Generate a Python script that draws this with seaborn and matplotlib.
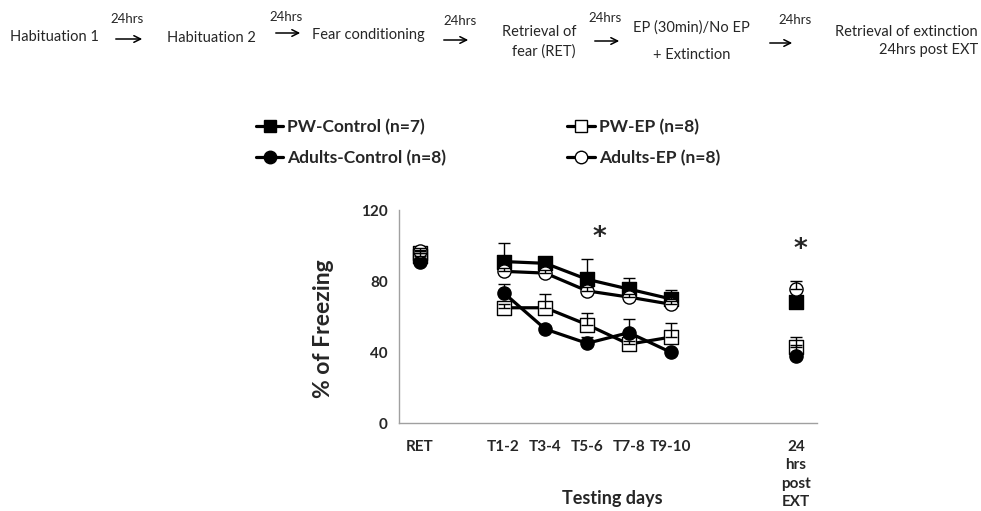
import numpy as np
import pandas as pd
import matplotlib.pyplot as plt
from matplotlib.lines import Line2D
import seaborn as sns

# Data
slots = ["RET", None, "T1-2", "T3-4", "T5-6", "T7-8", "T9-10", None, None, "24h"]
tick_labels = ["RET", "", "T1-2", "T3-4", "T5-6", "T7-8", "T9-10", "", "", "24\nhrs\npost\nEXT"]
timepoints = ["RET", "T1-2", "T3-4", "T5-6", "T7-8", "T9-10", "24h"]
connected = ["T1-2", "T3-4", "T5-6", "T7-8", "T9-10"]

groups = ["PW-Control (n=7)", "PW-EP (n=8)", "Adults-Control (n=8)", "Adults-EP (n=8)"]
pw_control = [94, 91, 90, 81, 75.5, 70, 68.5]
pw_control_sem = [2, 10.5, 1, 11.5, 6, 5, 2]
pw_ep = [96, 65, 65, 55.5, 44.5, 48.5, 43]
pw_ep_sem = [1.5, 2, 7.5, 6.5, 2, 8, 5.5]
adults_control = [91, 73.5, 53, 45, 51, 40, 38]
adults_control_sem = [2, 5, 2, 3.5, 7.5, 1.5, 6]
adults_ep = [97, 85.5, 84.5, 74.5, 71, 67, 75.5]
adults_ep_sem = [1.5, 2, 2, 2, 2, 2, 4.5]

means = [pw_control, pw_ep, adults_control, adults_ep]
sems = [pw_control_sem, pw_ep_sem, adults_control_sem, adults_ep_sem]
markers = ["s", "s", "o", "o"]
faces = ["black", "white", "black", "white"]

rows = []
for g, m, s in zip(groups, means, sems):
    for tp, v, e in zip(timepoints, m, s):
        rows.append({"group": g, "tp": tp, "x": slots.index(tp), "y": v, "err": e})
df = pd.DataFrame(rows)

sns.set_style("white")
plt.rcParams['font.family'] = ['Lato', 'DejaVu Sans']

W, H = 981, 511
fig = plt.figure(figsize=(W / 100, H / 100), dpi=100)
ax = fig.add_axes([399 / W, 1 - 423.3 / H, 418 / W, 213.3 / H])

for g, mk, fc in zip(groups, markers, faces):
    sub = df[df.group == g]
    line = sub[sub.tp.isin(connected)]
    sns.lineplot(data=line, x="x", y="y", color="black", lw=2.3, ax=ax,
                 legend=False, estimator=None, sort=False, zorder=2)
    sns.scatterplot(data=sub, x="x", y="y", marker=mk, s=90, color=fc,
                    edgecolor="black", linewidth=1, ax=ax, legend=False, zorder=3)
    ax.errorbar(sub["x"], sub["y"], yerr=[np.zeros(len(sub)), sub["err"].values], fmt="none",
                ecolor="black", elinewidth=1, capsize=4, capthick=1, zorder=4)

ax.set_xlim(-0.5, 9.5)
ax.set_ylim(0, 120)
ax.set_yticks([0, 40, 80, 120])
ax.set_xticks(range(len(tick_labels)))
ax.set_xticklabels(tick_labels, fontweight="bold", fontsize=11)
ax.set_xticks(np.arange(-0.5, 10, 1), minor=True)
for lab in ax.get_xticklabels():
    lab.set_linespacing(1.4)
for lab in ax.get_yticklabels():
    lab.set_fontweight("bold")
    lab.set_fontsize(11)
ax.tick_params(axis="x", which="major", length=0, pad=12)
ax.tick_params(axis="x", which="minor", length=5, color="#a0a0a0", width=1, direction="out")
ax.tick_params(axis="y", length=6, color="#a0a0a0", width=1, direction="out", pad=2)
for side in ["top", "right"]:
    ax.spines[side].set_visible(False)
for side in ["left", "bottom"]:
    ax.spines[side].set_color("#a0a0a0")
    ax.spines[side].set_linewidth(1)

ax.set_ylabel("% of Freezing", fontsize=16.5, fontweight="bold")
ax.yaxis.set_label_coords(-0.155, 0.445)
ax.set_xlabel("Testing days", fontsize=13, fontweight="bold")
ax.xaxis.set_label_coords(0.51, -0.315)

# significance stars
ax.text(4.3, 104, "*", fontsize=19, fontweight="bold", ha="center", va="center",
        family="DejaVu Sans")
ax.text(9.1, 97.5, "*", fontsize=19, fontweight="bold", ha="center", va="center",
        family="DejaVu Sans")

handles = [Line2D([], [], color="black", lw=2.3, marker=mk, markersize=9,
                  markerfacecolor=fc, markeredgecolor="black")
           for mk, fc in zip(markers, faces)]
order = [0, 2, 1, 3]
fig.legend([handles[i] for i in order], [groups[i] for i in order], ncol=2,
           loc="upper left", bbox_to_anchor=(240 / W, 1 - 103 / H), frameon=False,
           handlelength=1.6, handletextpad=0.2, columnspacing=7.0, labelspacing=0.88,
           prop={"weight": "bold", "size": 12.5})

# timeline across the top, in pixel coordinates
top = fig.add_axes([0, 0, 1, 1], zorder=-1)
top.set_xlim(0, W)
top.set_ylim(H, 0)
top.axis("off")

fs = 10.5
top.text(10, 37, "Habituation 1", fontsize=fs, va="center", ha="left")
top.text(167, 38, "Habituation 2", fontsize=fs, va="center", ha="left")
top.text(312, 35, "Fear conditioning", fontsize=fs, va="center", ha="left")
top.text(576, 42, "Retrieval of\nfear (RET)", fontsize=fs, va="center", ha="right",
         linespacing=1.45)
top.text(691, 28, "EP (30min)/No EP", fontsize=fs, va="center", ha="center")
top.text(692, 55, "+ Extinction", fontsize=fs, va="center", ha="center")
top.text(978, 41, "Retrieval of extinction\n24hrs post EXT", fontsize=fs, va="center",
         ha="right", linespacing=1.45)

arrows = [(113, 145, 39, 127, 19), (273, 303, 33, 286, 17),
          (441, 471, 40, 460, 21), (592, 622, 41, 605, 18),
          (767, 795, 43, 795, 20)]
for x0, x1, y, lx, ly in arrows:
    top.annotate("", xy=(x1, y), xytext=(x0, y),
                 arrowprops=dict(arrowstyle="->", lw=1.1, color="black", mutation_scale=12))
    top.text(lx, ly, "24hrs", fontsize=9.5, ha="center", va="center")

fig.savefig("out.png", dpi=100)
